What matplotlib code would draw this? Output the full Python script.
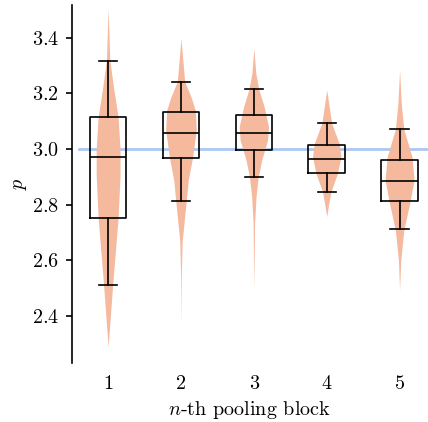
import numpy as np
import matplotlib as mpl
mpl.use('Agg')
from matplotlib import pyplot as plt

# pooling blocks
blocks = [1, 2, 3, 4, 5]
target_p = 3.0

# box statistics
q1 = [2.753, 2.969, 2.998, 2.915, 2.813]
med = [2.970, 3.056, 3.056, 2.965, 2.885]
q3 = [3.116, 3.134, 3.121, 3.016, 2.962]
whislo = [2.512, 2.813, 2.898, 2.847, 2.712]
whishi = [3.317, 3.239, 3.214, 3.092, 3.072]

# violin outlines: p levels and half widths (x units)
v1_p = [3.505, 3.32, 3.22, 3.115, 3.0, 2.907, 2.753, 2.512, 2.404, 2.29]
v1_w = [0.0, 0.023, 0.075, 0.137, 0.164, 0.164, 0.137, 0.062, 0.032, 0.0]
v2_p = [3.397, 3.242, 3.188, 3.14, 3.068, 2.972, 2.889, 2.817, 2.667, 2.547, 2.368]
v2_w = [0.0, 0.051, 0.137, 0.196, 0.210, 0.160, 0.100, 0.073, 0.016, 0.005, 0.0]
v3_p = [3.362, 3.272, 3.214, 3.152, 3.08, 3.032, 2.96, 2.898, 2.829, 2.734, 2.613, 2.5]
v3_w = [0.0, 0.027, 0.068, 0.141, 0.201, 0.188, 0.107, 0.059, 0.030, 0.010, 0.005, 0.0]
v4_p = [3.212, 3.092, 3.02, 2.972, 2.913, 2.847, 2.793, 2.757]
v4_w = [0.0, 0.068, 0.171, 0.195, 0.148, 0.058, 0.021, 0.0]
v5_p = [3.284, 3.164, 3.071, 2.972, 2.889, 2.817, 2.709, 2.601, 2.494]
v5_w = [0.0, 0.023, 0.058, 0.171, 0.199, 0.148, 0.058, 0.016, 0.0]

violins = [(v1_p, v1_w), (v2_p, v2_w), (v3_p, v3_w), (v4_p, v4_w), (v5_p, v5_w)]

plt.rcParams['font.family'] = 'serif'
plt.rcParams['font.serif'] = ['cmr10']
plt.rcParams['mathtext.fontset'] = 'cm'
plt.rcParams['axes.formatter.use_mathtext'] = True
plt.rcParams['font.size'] = 14.5

fig = plt.figure(figsize=(4.28, 4.22), dpi=100)
ax = fig.add_axes([0.168, 0.14, 0.832, 0.848])

# 目標値の線
ax.plot([0.6, 5.4], [target_p, target_p], color='#aac8f5', lw=2.0, zorder=1)

# バイオリン
for x, (p, w) in zip(blocks, violins):
    p = np.array(p)
    w = np.array(w)
    ax.fill_betweenx(p, x - w, x + w, color='#f5b99e', lw=0, zorder=2)

# 箱ひげ
stats = []
for i in range(len(blocks)):
    stats.append({'med': med[i], 'q1': q1[i], 'q3': q3[i],
                  'whislo': whislo[i], 'whishi': whishi[i], 'fliers': []})
ax.bxp(stats, positions=blocks, widths=0.5, showfliers=False,
       boxprops=dict(color='k', lw=1.2),
       medianprops=dict(color='k', lw=1.2),
       whiskerprops=dict(color='k', lw=1.2),
       capprops=dict(color='k', lw=1.2), zorder=3)

ax.set_xlim(0.503, 5.39)
ax.set_ylim(2.232, 3.517)
ax.set_yticks([2.4, 2.6, 2.8, 3.0, 3.2, 3.4])
ax.set_xticks(blocks)
ax.set_xticklabels([str(b) for b in blocks])
for s in ['top', 'right', 'bottom']:
    ax.spines[s].set_visible(False)
ax.spines['left'].set_linewidth(1.2)
ax.tick_params(axis='x', length=0, pad=9)
ax.tick_params(axis='y', length=4.5, width=1.2, pad=5)
ax.set_xlabel(r'$n$-th pooling block', labelpad=4)
ax.set_ylabel(r'$p$', labelpad=2)

plt.savefig('out.png', dpi=100)
